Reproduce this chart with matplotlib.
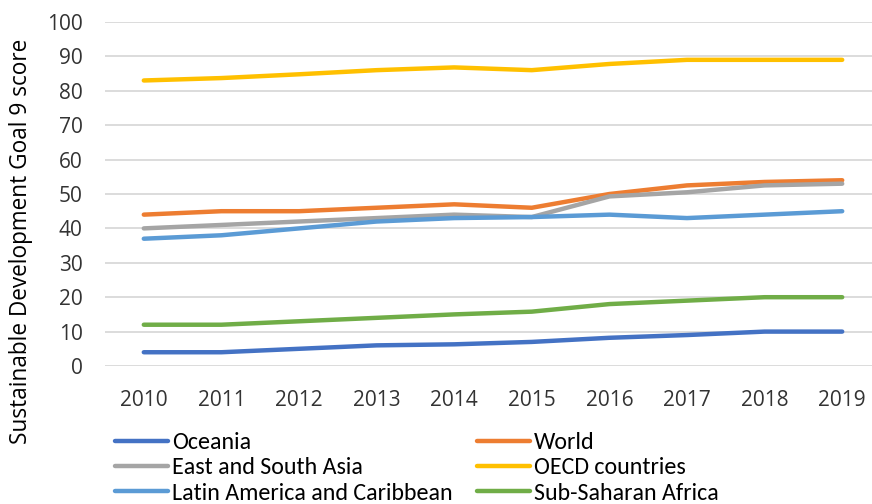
import matplotlib
matplotlib.use("Agg")
import matplotlib.pyplot as plt
from matplotlib.lines import Line2D

years = [2010, 2011, 2012, 2013, 2014, 2015, 2016, 2017, 2018, 2019]
oceania = [4, 4, 5, 6, 6.3, 7, 8.2, 9, 10, 10]
world = [44, 45, 45, 46, 47, 46, 50, 52.5, 53.5, 54]
east_south_asia = [40, 41, 42, 43, 44, 43.3, 49.3, 50.5, 52.5, 53]
oecd = [83, 83.7, 84.8, 86, 86.8, 86, 87.8, 89, 89, 89]
latin_america = [37, 38, 40, 42, 43, 43.3, 44, 43, 44, 45]
sub_saharan = [12, 12, 13, 14, 15, 15.8, 18, 19, 20, 20]

series = [
    ("Oceania", oceania, "#4472C4"),
    ("World", world, "#ED7D31"),
    ("East and South Asia", east_south_asia, "#A5A5A5"),
    ("OECD countries", oecd, "#FFC000"),
    ("Latin America and Caribbean", latin_america, "#5B9BD5"),
    ("Sub-Saharan Africa", sub_saharan, "#70AD47"),
]

fig = plt.figure(figsize=(8.72, 5.04), dpi=100)
ax = fig.add_axes([105/872, 1-366/504, (881-105)/872, (366-22)/504])

for name, vals, col in series:
    ax.plot(years, vals, color=col, lw=3.2, solid_capstyle="round",
            solid_joinstyle="round", label=name, zorder=3)

ax.set_xlim(2009.5, 2019.5)
ax.set_ylim(0, 100)
ax.set_yticks(range(0, 101, 10))
ax.set_xticks(years)
ax.grid(axis="y", color="#D9D9D9", lw=1.3, zorder=0)
for s in ax.spines.values():
    s.set_visible(False)
ax.tick_params(length=0, labelsize=15, labelcolor="#333333")
ax.tick_params(axis="y", pad=16)
ax.tick_params(axis="x", pad=17)
for lab in ax.get_xticklabels() + ax.get_yticklabels():
    lab.set_family("Open Sans")
ax.set_ylabel("Sustainable Development Goal 9 score", family="Open Sans",
              fontsize=16.3, color="#000000")
ax.yaxis.set_label_coords(-(105-33)/776, (366-241)/344)

def mk(col):
    return Line2D([], [], color=col, lw=3.2, solid_capstyle="round")

legfont = {"family": ["Carlito", "Open Sans Condensed", "DejaVu Sans"], "size": 17.3}
col1 = [series[0], series[2], series[4]]
col2 = [series[1], series[3], series[5]]
for grp, x0 in ((col1, 115/872), (col2, 477/872)):
    fig.legend([mk(c) for _, _, c in grp], [n for n, _, _ in grp],
               loc="upper left", bbox_to_anchor=(x0, 1-432/504),
               frameon=False, ncol=1, handlelength=2.2, handletextpad=0.17,
               labelspacing=0.18, borderaxespad=0, borderpad=0, prop=legfont)

fig.savefig("out.png", dpi=100)
